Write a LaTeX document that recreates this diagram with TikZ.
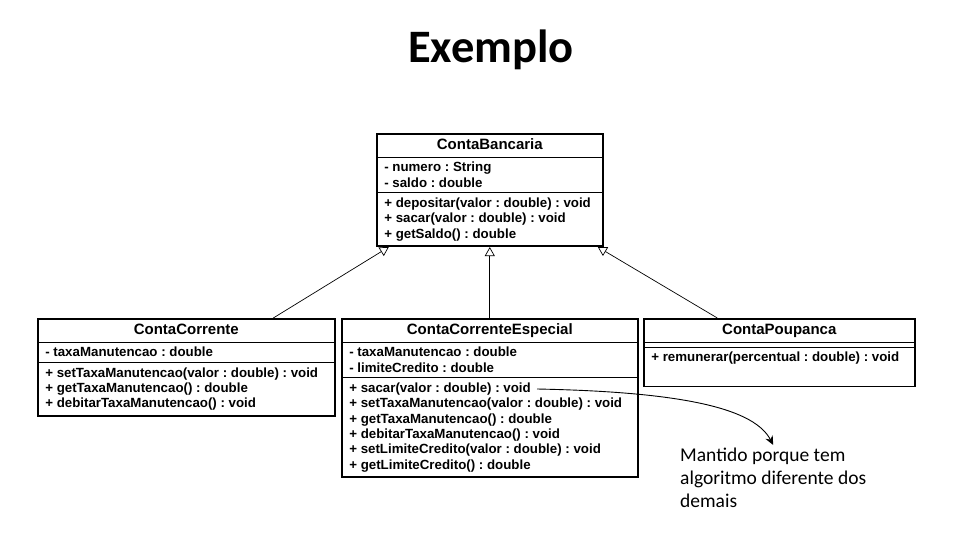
\documentclass[tikz,border=0pt]{standalone}
\usepackage{fontspec}
\setmainfont{Liberation Sans}
\newfontfamily\calibri{Carlito}
\usetikzlibrary{shapes.multipart,arrows.meta}
\frenchspacing
\newcommand{\umlname}[1]{\raisebox{0pt}[10.5pt][2pt]{\fontsize{15}{16}\selectfont #1}}

\begin{document}
\begin{tikzpicture}[x=1pt,y=-1pt,
    umlclass/.style={rectangle split, rectangle split parts=3, rectangle split draw splits=false,
      rectangle split part align={center,left,left}, draw, line width=1.6pt, align=left,
      anchor=north west, inner xsep=7.5pt, inner ysep=4.5pt, font=\fontsize{13.3}{15.3}\selectfont\bfseries},
    splitline/.style={line width=0.8pt},
    inherit/.style={draw, line width=0.7pt, -{Triangle[open,length=9pt,width=10pt]}},
    titulo/.style={font=\calibri\bfseries\fontsize{46.5}{50}\selectfont, anchor=base},
    nota/.style={font=\calibri\fontsize{19.5}{23}\selectfont, align=left, anchor=north west, inner sep=0pt}]
  \useasboundingbox (0,0) rectangle (974,559);
  \node[titulo] (exemplo) at (491,63) {Exemplo};
  % superclasse
  \node[umlclass, minimum width=226pt] (conta) at (376,133) {\umlname{ContaBancaria}
    \nodepart{two} - numero : String\\- saldo : double
    \nodepart{three} + depositar(valor : double) : void\\+ sacar(valor : double) : void\\+ getSaldo() : double};
  % subclasses
  \node[umlclass, minimum width=297pt] (corrente) at (37,318) {\umlname{ContaCorrente}
    \nodepart{two} - taxaManutencao : double
    \nodepart{three} + setTaxaManutencao(valor : double) : void\\+ getTaxaManutencao() : double\\+ debitarTaxaManutencao() : void};
  \node[umlclass, minimum width=296pt] (especial) at (341,318) {\umlname{ContaCorrenteEspecial}
    \nodepart{two} - taxaManutencao : double\\- limiteCredito : double
    \nodepart{three} + sacar(valor : double) : void\\+ setTaxaManutencao(valor : double) : void\\+ getTaxaManutencao() : double\\+ debitarTaxaManutencao() : void\\+ setLimiteCredito(valor : double) : void\\+ getLimiteCredito() : double};
  \node[umlclass, rectangle split parts=2, minimum width=271pt] (poupanca) at (643,318) {\umlname{ContaPoupanca}
    \nodepart{two}\rule[-20pt]{0pt}{34pt}+ remunerar(percentual : double) : void};
  \foreach \c in {conta,corrente,especial,poupanca}
    \draw[splitline] (\c.text split west) -- (\c.text split east);
  \foreach \c in {conta,corrente,especial}
    \draw[splitline] (\c.two split west) -- (\c.two split east);
  \draw[splitline] ([yshift=-5pt]poupanca.text split west) -- ([yshift=-5pt]poupanca.text split east);
  % heranca
  \draw[inherit] ([xshift=87pt]corrente.north) -- ([xshift=-101pt]conta.south);
  \draw[inherit] (especial.north) -- (conta.south);
  \draw[inherit] ([xshift=-62pt]poupanca.north) -- ([xshift=108pt]conta.south);
  % nota
  \node[nota] (mantido) at (680,448) {Mantido porque tem\\algoritmo diferente dos\\demais};
  \coordinate (sacar) at (537,389);
  \draw[line width=0.9pt, -{Stealth[length=9pt,width=8pt]}] (sacar) .. controls (690,392) and (755,410) .. ([yshift=3pt]mantido.north);
\end{tikzpicture}
\end{document}
